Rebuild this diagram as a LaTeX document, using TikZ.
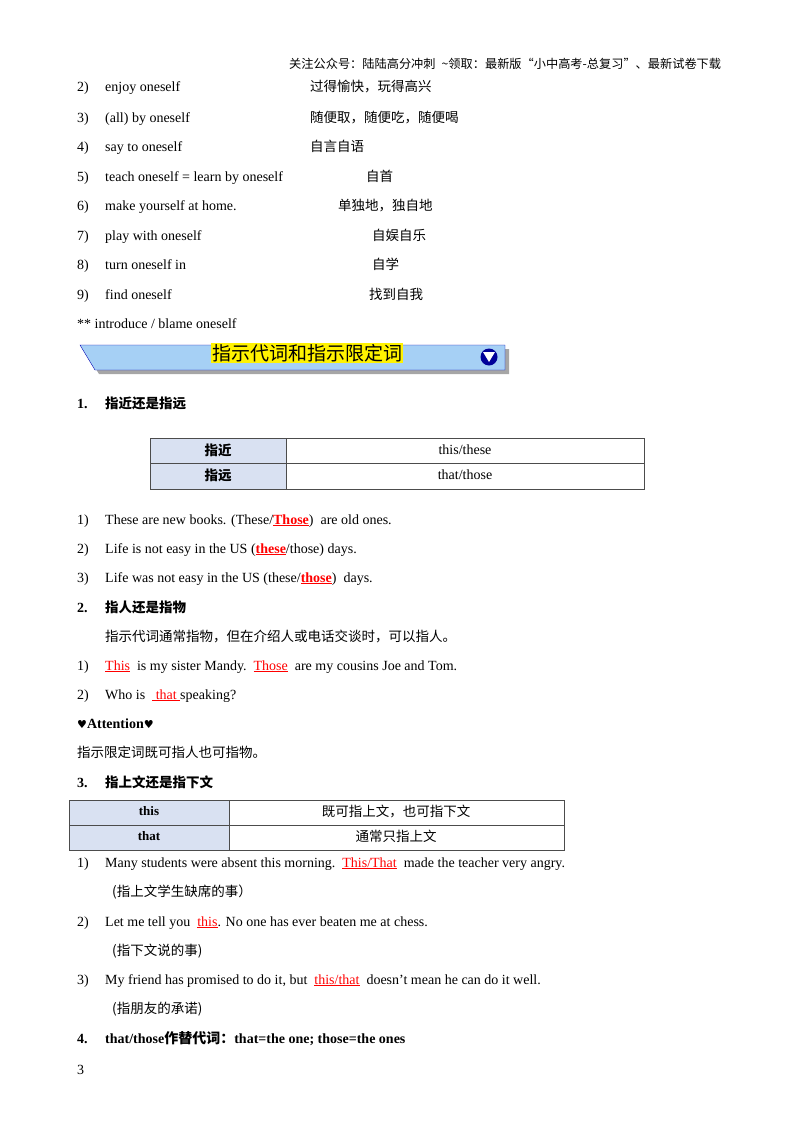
\documentclass[tikz,border=0pt]{standalone}
\usepackage{fontspec}
\setmainfont{Liberation Serif}
\newfontfamily\cjk{Noto Sans CJK SC}
\newfontfamily\sym{DejaVu Sans}
\usetikzlibrary{shadows}
\definecolor{bannerblue}{RGB}{166,208,245}
\definecolor{cellblue}{RGB}{217,225,242}
\newcommand{\ans}[1]{\textcolor{red}{\underline{#1}}}
\begin{document}
\begin{tikzpicture}[x=1pt,y=-1pt,
    txt/.style={anchor=base west, inner sep=0pt, font=\fontsize{14}{16}\selectfont},
    zh/.style={txt, font=\fontsize{13.5}{16}\selectfont\cjk},
    hd/.style={txt, font=\fontsize{14}{16}\selectfont\bfseries},
    cell/.style={draw=black!70, line width=0.8pt}
]
    \useasboundingbox (0,0) rectangle (800,1132);
    % Kopfzeile
    \node[zh, font=\fontsize{12.2}{14}\selectfont\cjk] (kopf) at (289,69) {关注公众号：陆陆高分冲刺\enspace\textasciitilde 领取：最新版“小中高考-总复习”、最新试卷下载};

    % Liste 2-9
    \foreach \n/\yy/\en/\xx/\cn in {
        2/92/enjoy oneself/310/过得愉快，玩得高兴,
        3/122/(all) by oneself/310/随便取，随便吃，随便喝,
        4/151/say to oneself/310/自言自语,
        5/181/teach oneself = learn by oneself/366/自首,
        6/210/make yourself at home./338/单独地，独自地,
        7/240/play with oneself/372/自娱自乐,
        8/269/turn oneself in/372/自学,
        9/299/find oneself/369/找到自我}{
        \node[txt] (num\n) at (77,\yy) {\n)};
        \node[txt] (en\n) at (105,\yy) {\en};
        \node[zh] (cn\n) at (\xx,\yy) {\cn};
    }
    \node[txt] (intro) at (77,328) {** introduce / blame oneself};

    % Banner
    \fill[black!35] (84,349) -- (509,349) -- (509,374) -- (99,374) -- cycle;
    \draw[blue!70!black, fill=bannerblue] (80,345) -- (505,345) -- (505,370) -- (95,370) -- cycle;
    \node[fill=yellow, inner sep=1pt, font=\fontsize{19}{21}\selectfont\cjk] (titel) at (307,353) {指示代词和指示限定词};
    \node[circle, fill=blue!60!black, minimum size=17pt, inner sep=0pt] (knopf) at (489,357) {};
    \fill[white] (483,352) -- (495,352) -- (489,362) -- cycle;

    % Abschnitt 1
    \node[hd] (h1) at (77,408) {1.};
    \node[zh, font=\fontsize{13.5}{16}\selectfont\cjk\bfseries] (h1t) at (105,408) {指近还是指远};
    \fill[cellblue] (150,438) rectangle (286,489);
    \draw[cell] (150,438) rectangle (644,489);
    \draw[cell] (150,463.5) -- (644,463.5);
    \draw[cell] (286,438) -- (286,489);
    \node[font=\fontsize{13.5}{16}\selectfont\cjk\bfseries] (near) at (218,450) {指近};
    \node[font=\fontsize{13.5}{16}\selectfont\cjk\bfseries] (far) at (218,475) {指远};
    \node[font=\fontsize{14}{16}\selectfont] (these) at (465,450) {this/these};
    \node[font=\fontsize{14}{16}\selectfont] (those) at (465,475) {that/those};

    \node[txt] (a1) at (77,524) {1)};
    \node[txt] (a1t) at (105,524) {These are new books. (These/\ans{\textbf{Those}})\ \ are old ones.};
    \node[txt] (a2) at (77,553) {2)};
    \node[txt] (a2t) at (105,553) {Life is not easy in the US (\ans{\textbf{these}}/those) days.};
    \node[txt] (a3) at (77,582) {3)};
    \node[txt] (a3t) at (105,582) {Life was not easy in the US (these/\ans{\textbf{those}})\ \ days.};

    % Abschnitt 2
    \node[hd] (h2) at (77,612) {2.};
    \node[zh, font=\fontsize{13.5}{16}\selectfont\cjk\bfseries] (h2t) at (105,612) {指人还是指物};
    \node[zh] (h2s) at (105,641) {指示代词通常指物，但在介绍人或电话交谈时，可以指人。};
    \node[txt] (b1) at (77,670) {1)};
    \node[txt] (b1t) at (105,670) {\ans{This}\ \ is my sister Mandy.\ \ \ans{Those}\ \ are my cousins Joe and Tom.};
    \node[txt] (b2) at (77,699) {2)};
    \node[txt] (b2t) at (105,699) {Who is\ \ \ans{\ that\ }speaking?};
    \node[hd] (att) at (77,728) {{\sym\fontsize{11}{14}\selectfont ♥}Attention{\sym\fontsize{11}{14}\selectfont ♥}};
    \node[zh] (attt) at (77,757) {指示限定词既可指人也可指物。};

    % Abschnitt 3
    \node[hd] (h3) at (77,787) {3.};
    \node[zh, font=\fontsize{13.5}{16}\selectfont\cjk\bfseries] (h3t) at (105,787) {指上文还是指下文};
    \fill[cellblue] (69,800) rectangle (229,850);
    \draw[cell] (69,800) rectangle (564,850);
    \draw[cell] (69,825) -- (564,825);
    \draw[cell] (229,800) -- (229,850);
    \node[font=\fontsize{13}{15}\selectfont\bfseries] (this) at (149,811) {this};
    \node[font=\fontsize{13}{15}\selectfont\bfseries] (that) at (149,836) {that};
    \node[font=\fontsize{13.5}{16}\selectfont\cjk] (both) at (396,811) {既可指上文，也可指下文};
    \node[font=\fontsize{13.5}{16}\selectfont\cjk] (before) at (396,836) {通常只指上文};

    \node[txt] (c1) at (77,867) {1)};
    \node[txt] (c1t) at (105,867) {Many students were absent this morning.\ \ \ans{This/That}\ \ made the teacher very angry.};
    \node[zh] (c1z) at (112,896) {(指上文学生缺席的事）};
    \node[txt] (c2) at (77,926) {2)};
    \node[txt] (c2t) at (105,926) {Let me tell you\ \ \ans{this}. No one has ever beaten me at chess.};
    \node[zh] (c2z) at (112,955) {(指下文说的事)};
    \node[txt] (c3) at (77,984) {3)};
    \node[txt] (c3t) at (105,984) {My friend has promised to do it, but\ \ \ans{this/that}\ \ doesn’t mean he can do it well.};
    \node[zh] (c3z) at (112,1013) {(指朋友的承诺)};

    % Abschnitt 4
    \node[hd] (h4) at (77,1043) {4.};
    \node[hd] (h4t) at (105,1043) {that/those{\cjk 作替代词：}that=the one; those=the ones};
    \node[txt] (seite) at (77,1074) {3};
\end{tikzpicture}
\end{document}
